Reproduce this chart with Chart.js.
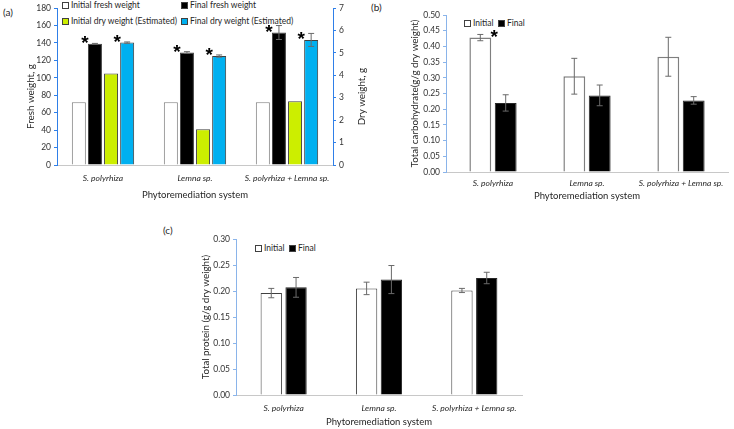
<!DOCTYPE html>
<html>
<head>
<meta charset="utf-8">
<script src="https://cdn.jsdelivr.net/npm/chart.js@4.4.0/dist/chart.umd.min.js"></script>
<style>
body{margin:0;background:#fff;width:734px;height:429px;overflow:hidden;position:relative;font-family:Lato,sans-serif;color:#262626}
canvas{position:absolute}
.lbl{position:absolute;font-size:10px;line-height:12px}
.legend{position:absolute;font-size:8.5px;line-height:10px;white-space:nowrap}
.sw{display:inline-block;width:5px;height:5px;border:1px solid #404040;margin-right:2px;vertical-align:-1px}
</style>
</head>
<body>
<div class="lbl" style="left:3px;top:6px">(a)</div>
<div class="lbl" style="left:371px;top:1px">(b)</div>
<div class="lbl" style="left:163px;top:224px">(c)</div>

<div class="legend" style="left:62px;top:0px"><span class="sw" style="background:#fff"></span>Initial fresh weight</div>
<div class="legend" style="left:181px;top:0px"><span class="sw" style="background:#000"></span>Final fresh weight</div>
<div class="legend" style="left:62px;top:16px"><span class="sw" style="background:#ccee00"></span>Initial dry weight (Estimated)</div>
<div class="legend" style="left:181px;top:16px"><span class="sw" style="background:#00b0f0"></span>Final dry weight (Estimated)</div>

<div class="legend" style="left:464px;top:18px"><span class="sw" style="background:#fff"></span>Initial&nbsp;&nbsp;<span class="sw" style="background:#000"></span>Final</div>
<div class="legend" style="left:255px;top:243px"><span class="sw" style="background:#fff"></span>Initial&nbsp;&nbsp;<span class="sw" style="background:#000"></span>Final</div>

<canvas id="chartA" width="370" height="205" style="left:0;top:0;width:370px;height:205px"></canvas>
<canvas id="chartB" width="364" height="206" style="left:370px;top:0;width:364px;height:206px"></canvas>
<canvas id="chartC" width="420" height="217" style="left:150px;top:215px;width:420px;height:217px"></canvas>

<script>
// categories shared by all three panels
const categories = ['S. polyrhiza', 'Lemna sp.', 'S. polyrhiza + Lemna sp.'];

// (a) fresh weight, g (left axis)
const initialFresh = [72, 72, 72];
const finalFresh = [139, 129, 152];
const finalFreshErr = [0.5, 1, 8];
// (a) dry weight, g (right axis)
const initialDry = [4.08, 1.60, 2.84];
const finalDry = [5.46, 4.86, 5.58];
const finalDryErr = [0.03, 0.05, 0.29];

// (b) total carbohydrate, g/g dry weight
const carbInitial = [0.428, 0.305, 0.367];
const carbInitialErr = [0.010, 0.057, 0.062];
const carbFinal = [0.220, 0.244, 0.228];
const carbFinalErr = [0.026, 0.033, 0.012];

// (c) total protein, g/g dry weight
const protInitial = [0.196, 0.205, 0.201];
const protInitialErr = [0.009, 0.012, 0.004];
const protFinal = [0.207, 0.222, 0.225];
const protFinalErr = [0.019, 0.027, 0.011];

// axis ranges [min, max, step]
const freshAxis = [0, 180, 20];
const dryAxis = [0, 7, 1];
const carbAxis = [0, 0.5, 0.05];
const protAxis = [0, 0.3, 0.05];

Chart.defaults.font.family = 'Lato';
Chart.defaults.font.size = 8.5;
Chart.defaults.color = '#333333';

const errorBars = {
  id: 'errorBars',
  afterDatasetsDraw(chart) {
    const ctx = chart.ctx;
    chart.data.datasets.forEach((ds, i) => {
      if (!ds.errors) return;
      const meta = chart.getDatasetMeta(i);
      const scale = chart.scales[meta.yAxisID];
      meta.data.forEach((bar, j) => {
        const v = ds.data[j], e = ds.errors[j];
        const yt = scale.getPixelForValue(v + e);
        const yb = scale.getPixelForValue(v - e);
        ctx.save();
        ctx.strokeStyle = '#6a6a6a';
        ctx.lineWidth = 1;
        ctx.beginPath();
        ctx.moveTo(bar.x, yt); ctx.lineTo(bar.x, yb);
        ctx.moveTo(bar.x - 3, yt); ctx.lineTo(bar.x + 3, yt);
        ctx.moveTo(bar.x - 3, yb); ctx.lineTo(bar.x + 3, yb);
        ctx.stroke();
        ctx.restore();
      });
    });
  }
};

// significance asterisks next to the bar tops
const stars = {
  id: 'stars',
  afterDatasetsDraw(chart) {
    const ctx = chart.ctx;
    chart.data.datasets.forEach((ds, i) => {
      if (!ds.stars) return;
      const meta = chart.getDatasetMeta(i);
      meta.data.forEach((bar, j) => {
        if (!ds.stars[j]) return;
        const x = bar.x + ds.starSide * (bar.width / 2 + 3);
        const y = bar.y - 6;
        ctx.save();
        ctx.fillStyle = '#000';
        ctx.font = 'bold 19px "Liberation Sans"';
        ctx.textAlign = 'center';
        ctx.textBaseline = 'alphabetic';
        ctx.fillText('*', x, y + 11);
        ctx.restore();
      });
    });
  }
};

// rotated y titles drawn by hand so both read bottom-to-top
const sideTitles = {
  id: 'sideTitles',
  afterDraw(chart, args, opts) {
    if (!opts.items) return;
    const ctx = chart.ctx;
    const mid = (chart.chartArea.top + chart.chartArea.bottom) / 2 + (opts.shift || 0);
    opts.items.forEach(t => {
      const s = chart.scales[t.axis];
      const x = t.axis === 'y1' ? s.right - 8 : s.left + 8;
      ctx.save();
      ctx.translate(x, mid);
      ctx.rotate(-Math.PI / 2);
      ctx.fillStyle = '#262626';
      ctx.font = '9.8px Lato';
      ctx.textAlign = 'center';
      ctx.textBaseline = 'middle';
      ctx.fillText(t.text, 0, 0);
      ctx.restore();
    });
  }
};

function yScale(range, color, width, fmt, position) {
  return {
    position: position || 'left',
    min: range[0], max: range[1],
    ticks: { stepSize: range[2], padding: 3, callback: v => v.toFixed(fmt) },
    grid: { drawOnChartArea: false, tickLength: 3, color: color },
    border: { color: color, width: 1 },
    afterFit(s) { s.width = width; }
  };
}

function xScale(height, pad) {
  return {
    grid: { display: false, drawTicks: false },
    border: { color: '#c8c8c8' },
    ticks: { font: { style: 'italic', size: 8.5 }, color: '#262626', padding: pad, maxRotation: 0, autoSkip: false },
    title: { display: true, text: 'Phytoremediation system', color: '#262626', font: { size: 9.5 }, padding: { top: 4, bottom: 4 } },
    afterFit(s) { s.height = height; }
  };
}

const baseOpts = {
  responsive: false,
  animation: false,
  devicePixelRatio: 1
};

// (a)
new Chart(document.getElementById('chartA'), {
  type: 'bar',
  data: {
    labels: categories,
    datasets: [
      { label: 'Initial fresh weight', data: initialFresh, yAxisID: 'y', backgroundColor: '#ffffff', borderColor: '#7f7f7f', borderWidth: 1 },
      { label: 'Final fresh weight', data: finalFresh, errors: finalFreshErr, stars: [1, 1, 1], starSide: -1, yAxisID: 'y', backgroundColor: '#000000', borderColor: '#404040', borderWidth: 1 },
      { label: 'Initial dry weight (Estimated)', data: initialDry, yAxisID: 'y1', backgroundColor: '#ccee00', borderColor: '#404040', borderWidth: 1 },
      { label: 'Final dry weight (Estimated)', data: finalDry, errors: finalDryErr, stars: [1, 1, 1], starSide: -1, yAxisID: 'y1', backgroundColor: '#00b0f0', borderColor: '#404040', borderWidth: 1 }
    ]
  },
  options: Object.assign({}, baseOpts, {
    datasets: { bar: { categoryPercentage: 0.7, barPercentage: 0.87 } },
    layout: { padding: { left: 23, right: 0, top: 7, bottom: 0 } },
    plugins: {
      legend: { display: false }, tooltip: { enabled: false },
      sideTitles: { shift: 10, items: [{ axis: 'y', text: 'Fresh weight, g' }, { axis: 'y1', text: 'Dry weight, g' }] }
    },
    scales: {
      x: xScale(40, 8),
      y: yScale(freshAxis, '#2f7fe8', 34, 0),
      y1: yScale(dryAxis, '#2f7fe8', 37, 0, 'right')
    }
  }),
  plugins: [errorBars, stars, sideTitles]
});

// (b)
new Chart(document.getElementById('chartB'), {
  type: 'bar',
  data: {
    labels: categories,
    datasets: [
      { label: 'Initial', data: carbInitial, errors: carbInitialErr, stars: [1, 0, 0], starSide: 1, backgroundColor: '#ffffff', borderColor: '#7f7f7f', borderWidth: 1.5 },
      { label: 'Final', data: carbFinal, errors: carbFinalErr, backgroundColor: '#000000', borderColor: '#262626', borderWidth: 1 }
    ]
  },
  options: Object.assign({}, baseOpts, {
    datasets: { bar: { categoryPercentage: 0.54, barPercentage: 0.86 } },
    layout: { padding: { left: 37, right: 6, top: 15, bottom: 0 } },
    plugins: {
      legend: { display: false }, tooltip: { enabled: false },
      sideTitles: { items: [{ axis: 'y', text: 'Total carbohydrate(g/g dry weight)' }] }
    },
    scales: {
      x: xScale(34, 6),
      y: yScale(carbAxis, '#8ab4ea', 39, 2)
    }
  }),
  plugins: [errorBars, stars, sideTitles]
});

// (c)
new Chart(document.getElementById('chartC'), {
  type: 'bar',
  data: {
    labels: categories,
    datasets: [
      { label: 'Initial', data: protInitial, errors: protInitialErr, backgroundColor: '#ffffff', borderColor: '#404040', borderWidth: 1 },
      { label: 'Final', data: protFinal, errors: protFinalErr, backgroundColor: '#000000', borderColor: '#262626', borderWidth: 1 }
    ]
  },
  options: Object.assign({}, baseOpts, {
    datasets: { bar: { categoryPercentage: 0.52, barPercentage: 0.86 } },
    layout: { padding: { left: 48, right: 48, top: 24, bottom: 0 } },
    plugins: {
      legend: { display: false }, tooltip: { enabled: false },
      sideTitles: { items: [{ axis: 'y', text: 'Total protein (g/g dry weight)' }] }
    },
    scales: {
      x: xScale(37, 8),
      y: yScale(protAxis, '#8ab4ea', 38, 2)
    }
  }),
  plugins: [errorBars, stars, sideTitles]
});
</script>
</body>
</html>
